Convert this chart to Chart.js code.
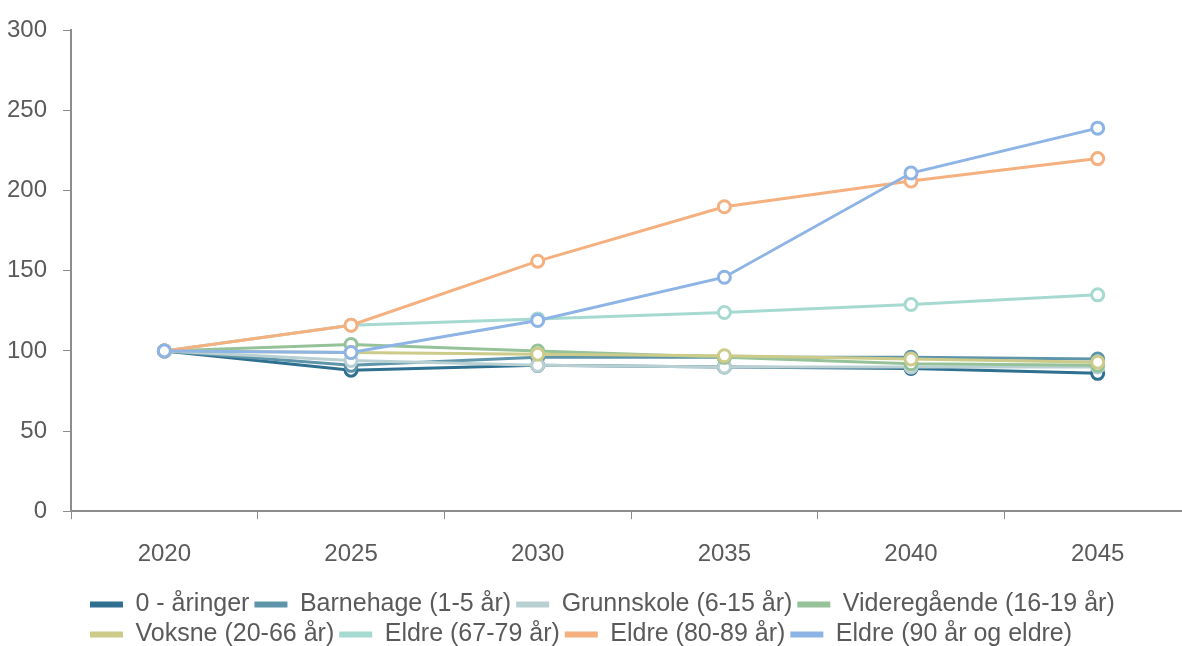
<!DOCTYPE html>
<html>
<head>
<meta charset="utf-8">
<script src="https://cdn.jsdelivr.net/npm/chart.js@4"></script>
<style>
  html, body { margin: 0; padding: 0; background: #fff; overflow: hidden; }
  #wrap { width: 1200px; height: 657px; }
</style>
</head>
<body>
<div id="wrap"><canvas id="chart"></canvas></div>
<script>
/* global Chart */

const years = ['2020', '2025', '2030', '2035', '2040', '2045'];

const seriesNames = [
  '0 - åringer',
  'Barnehage (1-5 år)',
  'Grunnskole (6-15 år)',
  'Videregående (16-19 år)',
  'Voksne (20-66 år)',
  'Eldre (67-79 år)',
  'Eldre (80-89 år)',
  'Eldre (90 år og eldre)',
];

const nullAaringer = [100, 88, 91, 90, 89, 86];
const barnehage = [100, 91, 96, 96, 96, 95];
const grunnskole = [100, 94, 91, 90, 90, 90];
const videregaende = [100, 104, 100, 96, 92, 91];
const voksne = [100, 99, 98, 97, 95, 93];
const eldre6779 = [100, 116, 120, 124, 129, 135];
const eldre8089 = [100, 116, 156, 190, 206, 220];
const eldre90 = [100, 99, 119, 146, 211, 239];

const yTicks = [0, 50, 100, 150, 200, 250, 300];

const colors = ['#2f6f8f', '#5e95ab', '#b9d0d3', '#96c29a', '#cccb8a', '#a6dad1', '#f4b07e', '#8db4e4'];
const values = [nullAaringer, barnehage, grunnskole, videregaende, voksne, eldre6779, eldre8089, eldre90];

const TEXT = '#5a5a5a';
const FONT = 'Liberation Sans, Arial, sans-serif';

// later series sit on top, like the original
const datasets = seriesNames.map((name, i) => ({
  label: name,
  data: values[i],
  borderColor: colors[i],
  backgroundColor: colors[i],
  borderWidth: 3,
  pointRadius: 6,
  pointBorderWidth: 3,
  pointBackgroundColor: '#fff',
  pointBorderColor: colors[i],
  tension: 0,
  order: seriesNames.length - i,
}));

// rows of the legend start at the same x, a bit in from the left
const legendShift = {
  id: 'legendShift',
  afterLayout(chart) {
    chart.legend.left += 94;
  },
};

new Chart(document.getElementById('chart'), {
  type: 'line',
  data: { labels: years, datasets },
  plugins: [legendShift],
  options: {
    responsive: true,
    maintainAspectRatio: false,
    animation: false,
    layout: { padding: { top: -4, right: 0, left: -9, bottom: 0 } },
    plugins: {
      tooltip: { enabled: false },
      legend: {
        position: 'bottom',
        align: 'start',
        labels: {
          color: TEXT,
          font: { family: FONT, size: 25 },
          boxWidth: 33,
          boxHeight: 6,
          padding: 5,
          sort: (a, b) => a.datasetIndex - b.datasetIndex,
          generateLabels(chart) {
            return Chart.defaults.plugins.legend.labels.generateLabels(chart).map((l) => ({
              ...l,
              lineWidth: 0,
            }));
          },
        },
      },
    },
    scales: {
      x: {
        offset: true,
        afterFit(scale) {
          scale.height -= 3;
        },
        grid: { display: true, drawOnChartArea: false, tickLength: 8, color: '#8c8c8c', offset: true },
        border: { color: '#8c8c8c', width: 2 },
        ticks: { color: TEXT, font: { family: FONT, size: 24 }, padding: 21 },
      },
      y: {
        min: 0,
        max: 300,
        afterBuildTicks(axis) {
          axis.ticks = yTicks.map((v) => ({ value: v }));
        },
        grid: { display: true, drawOnChartArea: false, tickLength: 8, color: '#8c8c8c' },
        border: { color: '#8c8c8c', width: 2 },
        ticks: { color: TEXT, font: { family: FONT, size: 24 }, padding: 16 },
      },
    },
  },
});
</script>
</body>
</html>
